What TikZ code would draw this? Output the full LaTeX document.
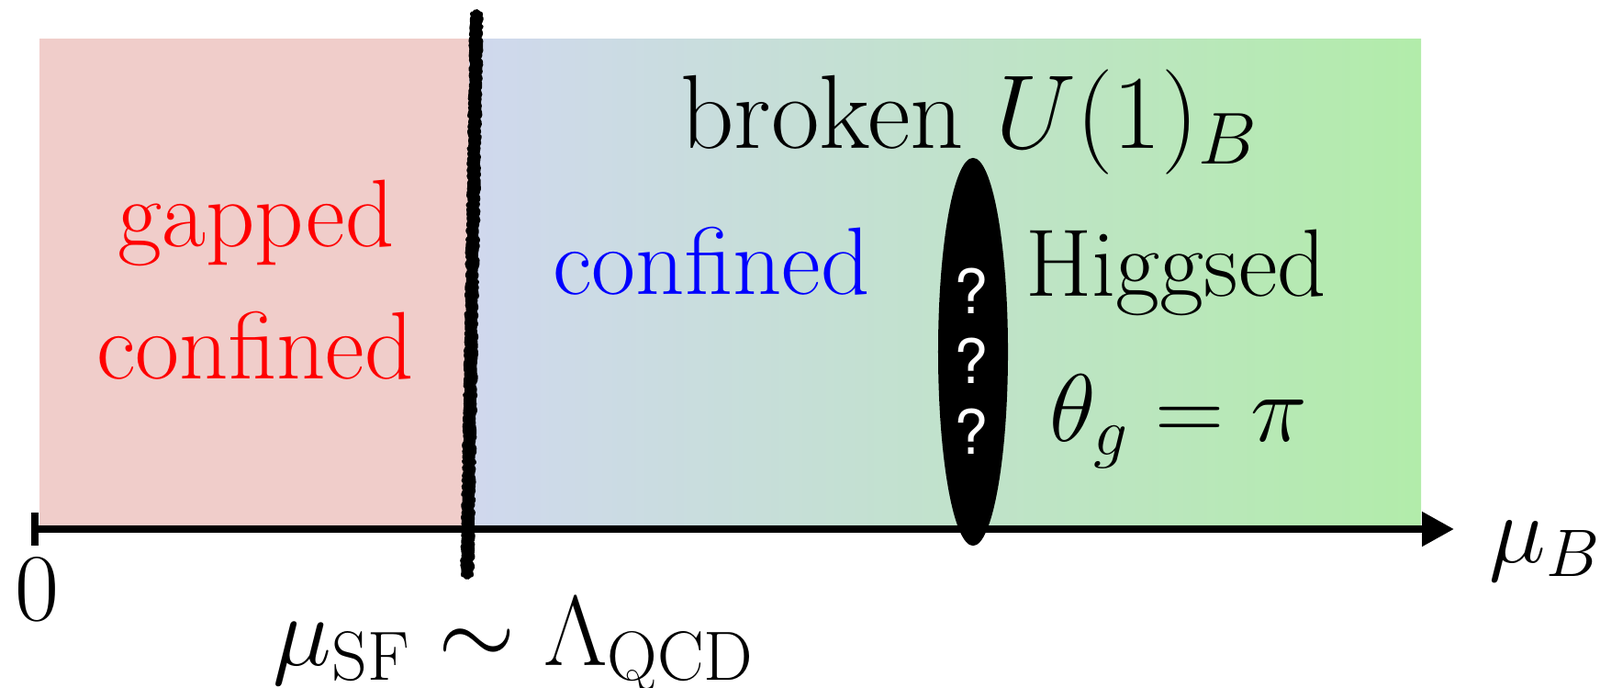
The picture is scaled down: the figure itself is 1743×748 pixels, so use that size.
\RequirePackage{fix-cm}
\documentclass[tikz,border=0pt]{standalone}
\usepackage{fontspec}
\newfontfamily\qfont{TeX Gyre Heros}
\usetikzlibrary{arrows.meta,decorations.pathmorphing,shapes.geometric}
\definecolor{pinkreg}{RGB}{240,205,202}
\definecolor{bluereg}{RGB}{208,216,238}
\definecolor{greenreg}{RGB}{178,236,170}
\definecolor{txtred}{RGB}{255,0,0}
\definecolor{txtblue}{RGB}{0,0,255}
\tikzset{
  lbl/.style={inner sep=0pt, anchor=base, font=\fontsize{29.7}{34}\selectfont},
  biglbl/.style={lbl, font=\fontsize{32.5}{38}\selectfont},
  qmark/.style={inner sep=0pt, anchor=center, text=white, font=\qfont\fontsize{19}{21}\selectfont},
  axisline/.style={line width=0.08cm, -{Triangle[length=0.35cm,width=0.36cm]}},
  rough/.style={line join=round, line cap=round, decorate, decoration={random steps, segment length=0.025cm, amplitude=0.012cm}}
}
\begin{document}
\begin{tikzpicture}[x=0.01cm,y=-0.01cm]
\useasboundingbox (0,0) rectangle (1743,748);
% regions
\fill[pinkreg] (43,42) rectangle (512,573);
\shade[left color=bluereg, right color=greenreg] (511,42) rectangle (1548,573);
% axis
\coordinate (origin) at (38,576);
\coordinate (axend) at (1584,576);
\coordinate (tickt) at (38,558);
\coordinate (tickb) at (38,594);
\draw[axisline] (origin) -- (axend);
\draw[line width=0.08cm] (tickt) -- (tickb);
% transition line
\coordinate (sqt) at (519,15);
\coordinate (sqb) at (509,626);
\draw[rough, line width=0.1cm] (sqt) -- (sqb);
\draw[rough, line width=0.05cm] ([xshift=0.045cm]sqt) -- ([xshift=0.045cm]sqb);
\draw[rough, line width=0.05cm] ([xshift=-0.045cm]sqt) -- ([xshift=-0.045cm]sqb);
% ellipse
\node[fill=black, ellipse, inner sep=0pt, minimum width=0.76cm, minimum height=4.22cm, draw=none] (ell) at (1060,383) {};
\node[qmark] (q1) at (1058,317) {?};
\node[qmark] (q2) at (1058,393) {?};
\node[qmark] (q3) at (1058,470) {?};
% labels
\node[lbl, text=txtred] (gap) at (279,268) {gapped};
\node[lbl, text=txtred] (conf1) at (278,412) {confined};
\node[lbl, text=txtblue] (conf2) at (775,320) {confined};
\node[biglbl] (broken) at (1056,161) {broken $U(1)_B$};
\node[lbl] (higgs) at (1281,322) {Higgsed};
\node[lbl] (theta) at (1284,480) {$\theta_g=\pi$};
\node[lbl] (zero) at (40,675) {$0$};
\node[lbl, font=\fontsize{30.8}{36}\selectfont] (musf) at (560,724) {$\mu_{\mathrm{SF}}\sim\Lambda_{\mathrm{QCD}}$};
\node[lbl, anchor=base west] (mub) at (1622,612) {$\mu_B$};
\end{tikzpicture}
\end{document}
